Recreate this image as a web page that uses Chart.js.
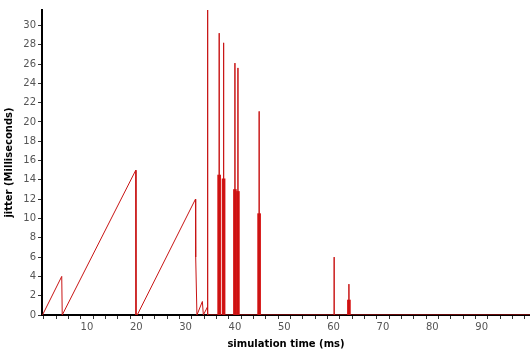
<!DOCTYPE html>
<html>
<head>
<meta charset="utf-8">
<script src="https://cdn.jsdelivr.net/npm/chart.js@4.4.1/dist/chart.umd.min.js"></script>
<style>
  html, body { margin: 0; padding: 0; background: #fff; }
  #wrap { width: 530px; height: 354px; position: relative; }
</style>
</head>
<body>
<div id="wrap"><canvas id="chart_jitter"></canvas></div>
<script>
// jitter trace (time in ms, jitter in ms)
var traceTime = [1, 4.9, 5.0, 19.9, 19.95, 20.2, 32.0, 32.05, 32.3, 33.4, 33.6, 34.4, 34.45, 34.5,
  36.78, 36.8, 36.82, 37.68, 37.7, 37.72, 39.98, 40.0, 40.02, 40.58, 40.6, 40.62,
  44.88, 44.9, 44.92, 60.08, 60.1, 60.12, 63.08, 63.1, 63.12, 99.8];
var traceJitter = [0, 4, 0, 15, 0, 0, 12, 6, 0, 1.4, 0, 0.8, 33, 0,
  0, 29.2, 0, 0, 28.2, 0, 0, 26.1, 0, 0, 25.6, 0,
  0, 21.1, 0, 0, 6.0, 0, 0, 3.2, 0, 0];

// dense bursts (drawn thick in the picture)
var burstTime = [36.8, 37.7, 40.0, 40.6, 44.9, 63.1];
var burstJitter = [14.5, 14.1, 13.0, 12.8, 10.5, 1.55];

var xTicks = [10, 20, 30, 40, 50, 60, 70, 80, 90];
var yTicks = [0, 2, 4, 6, 8, 10, 12, 14, 16, 18, 20, 22, 24, 26, 28, 30];

var tracePoints = traceTime.map(function (t, i) { return { x: t, y: traceJitter[i] }; });
var burstPoints = burstTime.map(function (t, i) { return { x: t, y: burstJitter[i] }; });

var tickFont = { family: 'DejaVu Sans', size: 10 };
var titleFont = { family: 'DejaVu Sans', size: 10, weight: 'bold' };

var ctx = document.getElementById('chart_jitter').getContext('2d');
var jitterChart = new Chart(ctx, {
  type: 'line',
  data: {
    datasets: [{
      label: 'jitter',
      data: tracePoints,
      borderColor: 'rgb(200, 20, 20)',
      borderWidth: 1,
      pointRadius: 0,
      tension: 0,
      fill: false
    }, {
      type: 'bar',
      label: 'bursts',
      data: burstPoints,
      backgroundColor: 'rgb(215, 20, 20)',
      borderWidth: 0,
      barThickness: 3
    }]
  },
  options: {
    responsive: true,
    maintainAspectRatio: false,
    animation: false,
    layout: { padding: { top: 10, right: 0, left: 0, bottom: 0 } },
    plugins: {
      legend: { display: false },
      tooltip: { enabled: false }
    },
    scales: {
      x: {
        type: 'linear',
        z: 1,
        min: 0.9,
        max: 99.8,
        offset: false,
        afterBuildTicks: function (scale) {
          scale.ticks = [];
          for (var v = 2.5; v < 99.8; v += 2.5) scale.ticks.push({ value: v });
        },
        afterFit: function (scale) { scale.height = 39; },
        ticks: {
          color: '#555',
          font: tickFont,
          padding: 2,
          maxRotation: 0,
          autoSkip: false,
          callback: function (v) { return xTicks.indexOf(v) >= 0 ? String(v) : ''; }
        },
        grid: { drawOnChartArea: false, tickLength: 4, color: '#000', tickColor: '#333' },
        border: { color: '#000', width: 2 },
        title: { display: true, text: 'simulation time (ms)', color: '#000', font: titleFont, padding: { top: 2, bottom: 4 } }
      },
      y: {
        z: 1,
        min: 0,
        max: 31.6,
        afterBuildTicks: function (scale) {
          scale.ticks = yTicks.map(function (v) { return { value: v }; });
        },
        afterFit: function (scale) { scale.width = 42; },
        ticks: { color: '#555', font: tickFont, padding: 2 },
        grid: { drawOnChartArea: false, tickLength: 4, color: '#000', tickColor: '#333' },
        border: { color: '#000', width: 2 },
        title: { display: true, text: 'jitter (Milliseconds)', color: '#000', font: titleFont, padding: { top: 3, bottom: 0 } }
      }
    }
  }
});
</script>
</body>
</html>
